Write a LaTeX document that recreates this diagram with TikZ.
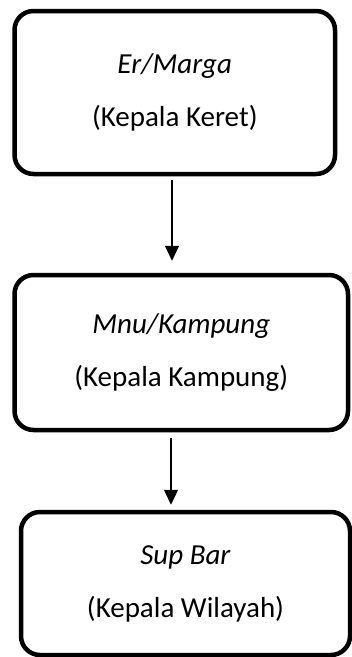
\documentclass[tikz,border=0pt]{standalone}
\usepackage{fontspec}
\setmainfont{Carlito}
\usetikzlibrary{arrows.meta}
\usetikzlibrary{positioning}

\begin{document}
\begin{tikzpicture}[x=1pt,y=-1pt,
  level/.style={draw=black,line width=4.5pt,rounded corners=19pt,align=center,
    font=\fontsize{29}{53}\selectfont,inner sep=0pt},
  link/.style={-{Triangle[width=14pt,length=15pt]},line width=1.3pt}]
\useasboundingbox (0,0) rectangle (352,657);
\node[level,minimum width=320.5pt,minimum height=163pt] (marga) at (174.75,92.5) {\textit{Er/Marga}\\(Kepala Keret)};
\node[level,minimum width=333.5pt,minimum height=155pt] (kampung) at (181.25,352.5) {\textit{Mnu/Kampung}\\(Kepala Kampung)};
\node[level,minimum width=329pt,minimum height=143pt] (wilayah) at (185.5,583.5) {\textit{Sup Bar}\\(Kepala Wilayah)};
\coordinate (ax1) at (172,0);
\coordinate (ax2) at (171,0);
\draw[link,shorten <=4pt,shorten >=12pt] (marga.south -| ax1) -- (kampung.north -| ax1);
\draw[link,shorten <=6pt,shorten >=5pt] (kampung.south -| ax2) -- (wilayah.north -| ax2);
\end{tikzpicture}
\end{document}
